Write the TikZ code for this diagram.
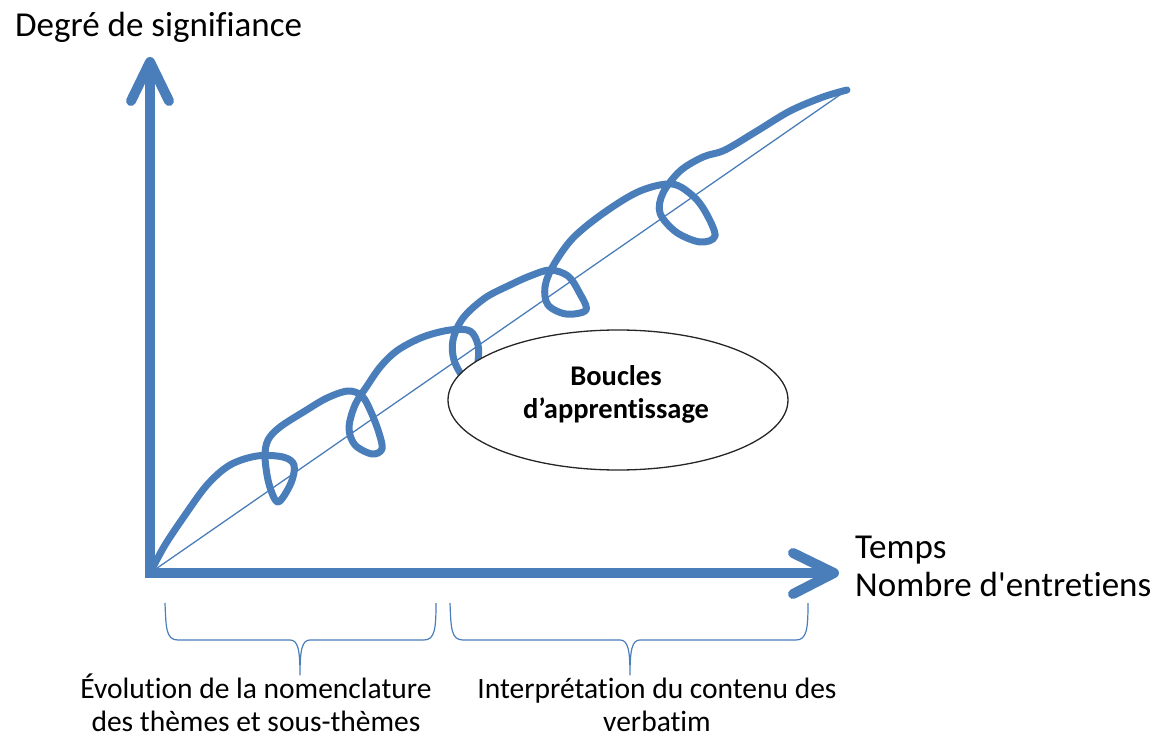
\documentclass[tikz,border=0pt]{standalone}
\usepackage{fontspec}
\setmainfont{Carlito}[Ligatures=CommonOff]
\usetikzlibrary{shapes.geometric}
\definecolor{obl}{RGB}{74,126,187}
\tikzset{
  axisline/.style={draw=obl, line width=10pt, line cap=round, line join=round},
  curveline/.style={draw=obl, line width=7pt, line cap=round, line join=round},
  diagline/.style={draw=obl, line width=1.3pt},
  braceline/.style={draw=obl, line width=1.2pt, line join=round},
  bigtext/.style={font=\fontsize{35}{38}\selectfont, inner sep=0pt, text=black},
  smalltext/.style={font=\fontsize{29.5}{33}\selectfont, inner sep=0pt, text=black},
  bubtext/.style={font=\bfseries\fontsize{28.5}{33}\selectfont, inner sep=0pt, anchor=base, text=black},
  bubble/.style={ellipse, draw=black!85, line width=1.3pt, fill=white,
     minimum width=340pt, minimum height=140pt, inner sep=0pt}
}
\begin{document}
\begin{tikzpicture}[x=1pt,y=-1pt]
\useasboundingbox (0,0) rectangle (1165,738);
% coordinates
\coordinate (O) at (150,573);
\coordinate (Ytip) at (150,62);
\coordinate (Xtip) at (834,573);
\coordinate (E) at (847,90);
% diagonal
\draw[diagline] (O) -- (E);
% curve with loops
\draw[curveline] plot[smooth, tension=0.55] coordinates {
 (152,569) (165,545) (183,518) (207,485) (230,465) (257,456) (283,457)
 (294,465) (291,483) (278,502) (269,484) (265,457) (268,440) (280,427)
 (305,411) (327,398) (348,391) (362,396) (371,412) (379,433) (382,449)
 (372,454) (355,445) (349,428) (355,405) (367,386) (381,366) (398,350)
 (423,337) (450,330) (470,331) (478,345) (478,362) (474,380) (464,378)
 (454,360) (453,340) (463,318) (485,298) (510,285) (530,276) (550,270)
 (568,276) (579,292) (586,310) (566,314) (548,305) (545,287) (553,266)
 (573,238) (605,212) (640,191) (672,184) (693,196) (706,213) (715,236)
 (700,242) (676,232) (660,213) (663,193) (680,171) (703,157) (725,150)
 (757,131) (790,111) (823,97) (847,90)};
% ellipse
\node[bubble] (bub) at (618,400) {};
\node[bubtext] (b1) at (616,385) {Boucles};
\node[bubtext] (b2) at (616,418) {d’apprentissage};
% axes
\draw[axisline, line cap=butt] (150,578) -- (Ytip);
\draw[axisline, line cap=butt] (145,573) -- (Xtip);
\draw[axisline] (131,101) -- (Ytip) -- (169,101);
\draw[axisline] (793,553) -- (Xtip) -- (793,594);
% axis labels
\node[bigtext, anchor=base west] (ylab) at (15,37) {Degré de signifiance};
\node[bigtext, anchor=base west] (xlab1) at (855,558) {Temps};
\node[bigtext, anchor=base west] (xlab2) at (855,596) {Nombre d\textquotesingle entretiens};
% braces
\draw[braceline] (165,603) .. controls (166,628) and (166,640) .. (178,640)
  -- (290,640) .. controls (298,640) and (300,650) .. (300,675)
  .. controls (300,650) and (302,640) .. (310,640)
  -- (424,640) .. controls (435,640) and (436,628) .. (436,603);
\draw[braceline] (450,603) .. controls (451,628) and (451,640) .. (463,640)
  -- (620,640) .. controls (628,640) and (630,650) .. (630,675)
  .. controls (630,650) and (632,640) .. (640,640)
  -- (796,640) .. controls (807,640) and (808,628) .. (808,603);
% bottom labels
\node[smalltext, anchor=base] (l1) at (256,698) {Évolution de la nomenclature};
\node[smalltext, anchor=base] (l2) at (256,731) {des thèmes et sous-thèmes};
\node[smalltext, anchor=base] (r1) at (657,698) {Interprétation du contenu des};
\node[smalltext, anchor=base] (r2) at (657,731) {verbatim};
\end{tikzpicture}
\end{document}
